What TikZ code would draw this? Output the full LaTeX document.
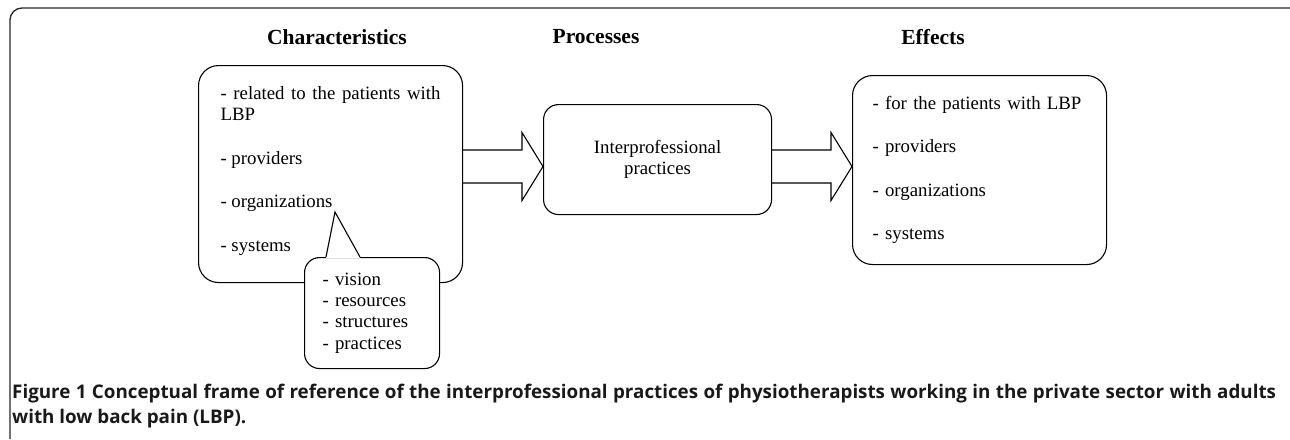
\documentclass[tikz,border=0pt]{standalone}
\usepackage{fontspec}
\setmainfont{Liberation Serif}
\newfontfamily\capfont{Open Sans}
\usetikzlibrary{calc,positioning}

\newcommand{\capstyle}{\capfont\bfseries\fontsize{18.8}{25}\selectfont\hyphenpenalty 10000\relax}
\newcommand{\fatarrow}[2]{%
  \draw[arr] ($(#1)+(0,-16.5)$) -- ($(#2)+(-21,-16.5)$) -- ($(#2)+(-21,-34)$) -- (#2)
    -- ($(#2)+(-21,34)$) -- ($(#2)+(-21,16.5)$) -- ($(#1)+(0,16.5)$);}

\begin{document}
\begin{tikzpicture}[
		x=1pt,
		y=-1pt,
		frame/.style={
		  draw=black!85,
		  line width=1.3pt,
		  rounded corners=12pt
		  },
		head/.style={
		  font=\fontsize{21.5}{24}\selectfont\bfseries,
		  inner sep=0pt
		  },
		box/.style={
		  draw,
		  line width=1.1pt,
		  rounded corners=20pt,
		  anchor=north west,
		  inner ysep=0pt,
		  font=\fontsize{18.8}{21}\selectfont
		  },
		arr/.style={
		  line width=1.1pt
		  }
		]
		\useasboundingbox (0,0) rectangle (1290,439);
		\draw[frame] (10,439) -- (10,8) -- (1290,8);
		\foreach \t/\x/\n in {Characteristics/337/hchar, Processes/596/hproc, Effects/933/heff}
		  \node[head] (\n) at (\x,37) {\t};
		\node[box, minimum width=264pt, minimum height=217pt, inner xsep=22pt, text width=220pt, align=justify] (chars) at (198,65)
		  {- related to the patients with LBP\\[22.5pt] - providers\\[22.5pt] - organizations\\[22.5pt] - systems\\[-11pt]\mbox{}};
		\node[box, rounded corners=15pt, minimum width=228pt, minimum height=110pt, align=center] (proc) at (543,104)
		  {Interprofessional\\practices};
		\node[box, minimum width=254pt, minimum height=189pt, inner xsep=20pt, text width=214pt, align=left] (effs) at (852,75)
		  {- for the patients with LBP\\[22.5pt] - providers\\[22.5pt] - organizations\\[22.5pt] - systems};
		\node[box, rounded corners=15pt, fill=white, minimum width=135pt, minimum height=111pt, inner xsep=18pt, text width=99pt, align=left, font=\fontsize{18.8}{21.3}\selectfont] (callout) at (304,257)
		  {- vision\\- resources\\- structures\\- practices};
		\coordinate (tip) at (335,212);
		\fill[white] ($(callout.north west)+(22,0.8)$) -- (tip) -- ($(callout.north west)+(56,0.8)$) -- cycle;
		\draw[arr] ($(callout.north west)+(22,0)$) -- (tip) -- ($(callout.north west)+(56,0)$);
		\coordinate (mid) at (0,166.5);
		\coordinate (a1) at (chars.east |- mid);
		\coordinate (t1) at (proc.west |- mid);
		\coordinate (a2) at (proc.east |- mid);
		\coordinate (t2) at (effs.west |- mid);
		\fatarrow{a1}{t1}
		\fatarrow{a2}{t2}
		\node[anchor=north west, inner sep=0pt, text width=1264pt, align=justify, text=black!90, font=\capstyle] (caption) at (12,384)
		  {Figure 1 Conceptual frame of reference of the interprofessional practices of physiotherapists working in the private sector with adults\linebreak with low back pain (LBP).};
	\end{tikzpicture}
\end{document}
